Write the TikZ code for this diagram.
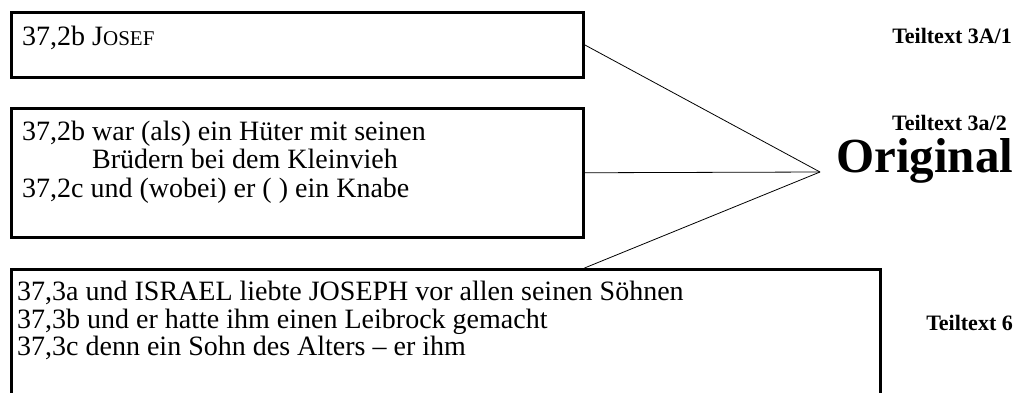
\documentclass[tikz,border=0pt]{standalone}
\usepackage{fontspec}
\setmainfont{Liberation Serif}
\usetikzlibrary{positioning}

% small capitals faked by size, the font has none
\newcommand{\fakesc}[2]{#1{\fontsize{21}{21}\selectfont #2}}

\begin{document}
\begin{tikzpicture}[x=1pt,y=-1pt,
  box/.style={draw,line width=2.5pt,anchor=north west,inner sep=0pt},
  verse/.style={anchor=base west,inner sep=0pt,font=\fontsize{28}{33}\selectfont},
  part/.style={anchor=base east,inner sep=0pt,font=\bfseries\fontsize{22}{22}\selectfont}]
\useasboundingbox (0,0) rectangle (1020,392);
% boxes
\node[box,minimum width=572pt,minimum height=65pt] (b1) at (10,11) {};
\node[box,minimum width=572pt,minimum height=129pt] (b2) at (10,107) {};
\node[box,minimum width=869pt,minimum height=160pt] (b3) at (10,268) {};
% verses
\node[verse] (v2b) at (22,45) {37,2b \fakesc{J}{OSEF}};
\node[verse] (v2bw) at (22,140) {37,2b war (als) ein Hüter mit seinen};
\node[verse] (v2bb) at (22,168) {\hphantom{37,2b }Brüdern bei dem Kleinvieh};
\node[verse] (v2c) at (22,197) {37,2c und (wobei) er ( ) ein Knabe};
\node[verse] (v3a) at (17,300) {37,3a und ISRAEL liebte JOSEPH vor allen seinen Söhnen};
\node[verse] (v3b) at (17,328) {37,3b und er hatte ihm einen Leibrock gemacht};
\node[verse] (v3c) at (17,355) {37,3c denn ein Sohn des Alters -- er ihm};
% lines
\coordinate (o) at (820,172);
\draw[line width=0.8pt] (b1.east) -- (o);
\draw[line width=0.8pt] (b2.east) -- (o);
\draw[line width=0.8pt] (b1.east |- b3.north) -- (o);
% labels
\node[anchor=base west,inner sep=0pt,font=\bfseries\fontsize{49}{49}\selectfont] (orig) at (836,172) {Original};
\node[part] (t1) at (1012,43) {Teiltext 3A/1};
\node[part] (t2) at (1007,130) {Teiltext 3a/2};
\node[part] (t6) at (1013,330) {Teiltext 6};
\end{tikzpicture}
\end{document}
